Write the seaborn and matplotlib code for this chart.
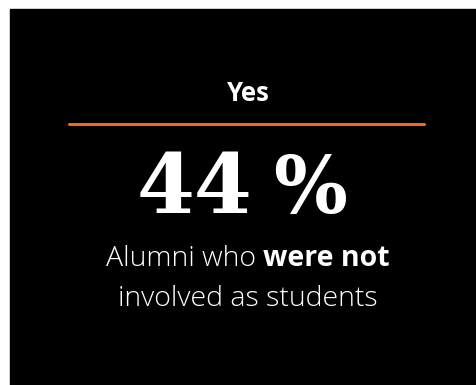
import matplotlib
matplotlib.use("Agg")
import matplotlib.pyplot as plt
import seaborn as sns
import pandas as pd

# Data
category = "Yes"
value = 44
caption_normal_1 = "Alumni who "
caption_bold = "were not"
caption_line_2 = "involved as students"

sns.set_theme(style="white")
plt.rcParams["font.family"] = ["Open Sans", "DejaVu Sans"]

W, H = 476, 385
fig = plt.figure(figsize=(W / 100, H / 100), dpi=100)
fig.patch.set_facecolor("white")
ax = fig.add_axes([0, 0, 1, 1])

# black card
ax.add_patch(plt.Rectangle((10, 9), W - 10, H - 9, color="black", zorder=0))

cx = 248

ax.text(cx, 101, category, color="white", fontsize=18.5, fontweight="bold",
        family=["Open Sans", "DejaVu Sans"], ha="center", va="baseline")

rule = pd.DataFrame({"x": [69, 424], "y": [124, 124]})
sns.lineplot(data=rule, x="x", y="y", ax=ax, color="#F06A22", linewidth=2.2)
ax.set_xlim(0, W)
ax.set_ylim(H, 0)
ax.axis("off")

fig.canvas.draw()
r = fig.canvas.get_renderer()

# big number: number and percent sign
tn = ax.text(195, 213, f"{value}", color="white", fontsize=60, fontweight="bold",
             family=["DejaVu Serif"], ha="center", va="baseline")
tp = ax.text(310.5, 213, "%", color="white", fontsize=56, fontweight="bold",
             family=["DejaVu Serif"], ha="center", va="baseline")

# caption line 1 with bold part
fs = 20.5
t1 = ax.text(0, 0, caption_normal_1, color="white", fontsize=fs, fontweight="light",
             ha="left", va="baseline")
t2 = ax.text(0, 0, caption_bold, color="white", fontsize=fs, fontweight="bold",
             ha="left", va="baseline")
w1 = t1.get_window_extent(r).width
w2 = t2.get_window_extent(r).width
start = cx - (w1 + w2) / 2
t1.set_position((start, 266))
t2.set_position((start + w1, 266))

ax.text(cx, 306, caption_line_2, color="white", fontsize=fs, fontweight="light",
        ha="center", va="baseline")

fig.savefig("out.png", dpi=100, facecolor="white")
